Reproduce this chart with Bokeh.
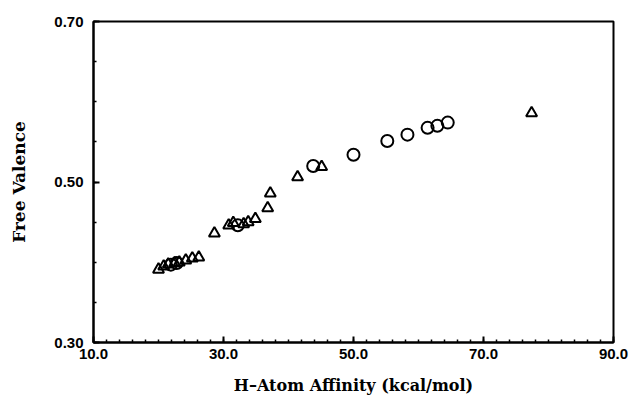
from bokeh.plotting import figure
from bokeh.models import FixedTicker, Range1d
from bokeh.embed import file_html
from bokeh.resources import INLINE

# Triangles (series A)
tri_x = [20.0, 20.8, 21.5, 22.5, 23.2, 24.2, 25.2, 26.2,
         28.6, 30.8, 31.5, 33.1, 33.8, 34.9, 36.8, 37.2,
         41.4, 45.1, 77.4]
tri_y = [0.391, 0.395, 0.3975, 0.399, 0.400, 0.4025, 0.405, 0.406,
         0.436, 0.446, 0.449, 0.4475, 0.450, 0.454, 0.4675, 0.486,
         0.506, 0.519, 0.586]

# Circles (series B)
cir_x = [21.9, 22.8, 32.2, 43.8, 50.0, 55.2, 58.3, 61.4, 62.9, 64.5]
cir_y = [0.397, 0.399, 0.446, 0.520, 0.534, 0.551, 0.559, 0.5675, 0.570, 0.574]

x_major = [10, 30, 50, 70, 90]
x_labels = {10: "10.0", 30: "30.0", 50: "50.0", 70: "70.0", 90: "90.0"}
y_major = [0.30, 0.50, 0.70]
y_labels = {0.3: "0.30", 0.5: "0.50", 0.7: "0.70"}

p = figure(width=632, height=397, output_backend="svg", toolbar_location=None,
           x_range=Range1d(10, 90), y_range=Range1d(0.30, 0.70),
           min_border_left=93, min_border_right=19, min_border_top=21,
           min_border_bottom=55)
p.grid.visible = False
p.background_fill_color = "white"
p.border_fill_color = "white"
p.outline_line_color = "black"
p.outline_line_width = 2

p.xaxis.ticker = FixedTicker(ticks=x_major, minor_ticks=list(range(10, 91, 2)))
p.yaxis.ticker = FixedTicker(ticks=y_major, minor_ticks=[0.30 + 0.05 * i for i in range(9)])
p.xaxis.major_label_overrides = x_labels
p.yaxis.major_label_overrides = y_labels

for ax in (p.xaxis, p.yaxis):
    ax.axis_line_width = 2
    ax.axis_line_color = "black"
    ax.major_tick_in = 6
    ax.major_tick_out = 0
    ax.minor_tick_in = 3
    ax.minor_tick_out = 0
    ax.major_tick_line_width = 2
    ax.minor_tick_line_width = 1.5
    ax.major_label_text_font = "Liberation Sans"
    ax.major_label_text_font_style = "bold"
    ax.major_label_text_font_size = "15px"
    ax.major_label_text_color = "black"
    ax.axis_label_text_font = "DejaVu Serif"
    ax.axis_label_text_font_style = "bold"
    ax.axis_label_text_color = "black"

p.xaxis.axis_label_text_font_size = "16px"
p.yaxis.axis_label_text_font_size = "17px"
p.xaxis.axis_label = "H\u2013Atom Affinity (kcal/mol)"
p.yaxis.axis_label = "Free Valence"
p.xaxis.major_label_standoff = 6
p.yaxis.major_label_standoff = 10
p.xaxis.axis_label_standoff = 14
p.yaxis.axis_label_standoff = 22

p.scatter(tri_x, tri_y, marker="triangle", size=11, fill_color=None,
          line_color="black", line_width=2)
p.scatter(cir_x, cir_y, marker="circle", size=12, fill_color=None,
          line_color="black", line_width=2)

open("out.html", "w").write(file_html(p, INLINE))
